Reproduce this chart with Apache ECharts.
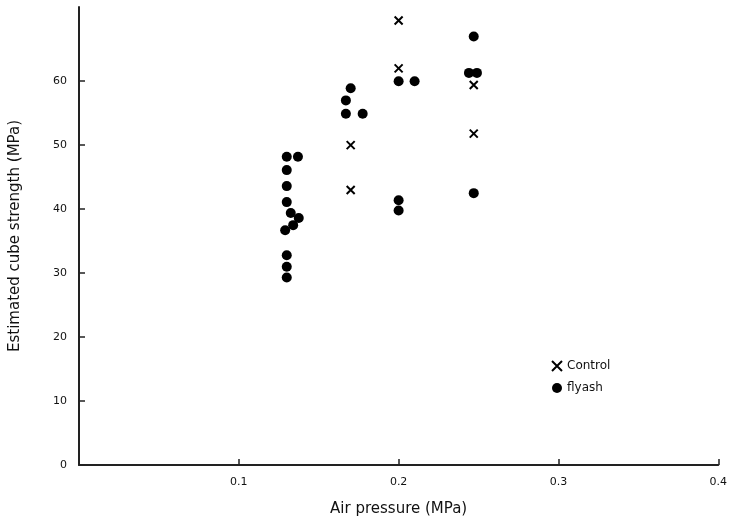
<!DOCTYPE html>
<html><head><meta charset="utf-8">
<script src="https://cdn.jsdelivr.net/npm/echarts@6/dist/echarts.min.js"></script>
<style>html,body{margin:0;padding:0;background:#fff}#c{width:730px;height:526px}</style>
</head><body><div id="c"></div>
<script>
var xTicks = [0.1, 0.2, 0.3, 0.4];
var yTicks = [0, 10, 20, 30, 40, 50, 60];
var controlX = [0.17, 0.17, 0.2, 0.2, 0.247, 0.247];
var controlY = [50, 43, 69.5, 62, 59.4, 51.8];
var flyashX = [0.13, 0.137, 0.13, 0.13, 0.13, 0.1325, 0.1375, 0.134, 0.129, 0.13, 0.13, 0.13,
               0.17, 0.167, 0.167, 0.1775,
               0.2, 0.21, 0.2, 0.2,
               0.247, 0.244, 0.249, 0.247];
var flyashY = [48.2, 48.2, 46.1, 43.6, 41.1, 39.4, 38.6, 37.5, 36.7, 32.8, 31.0, 29.3,
               58.9, 57.0, 54.9, 54.9,
               60, 60, 41.4, 39.8,
               67, 61.3, 61.3, 42.5];
function pairs(xs, ys){ return xs.map(function(x,i){return [x, ys[i]];}); }
var font = 'DejaVu Sans';
var chart = echarts.init(document.getElementById('c'));
chart.setOption({
  animation: false,
  backgroundColor: '#fff',
  textStyle: {fontFamily: font},
  grid: {left: 78, right: 10, top: 7, bottom: 61, containLabel: false},
  xAxis: {
    type: 'value', min: 0, max: 0.4, interval: 0.1,
    name: 'Air pressure (MPa)', nameLocation: 'middle', nameGap: 37,
    nameTextStyle: {fontSize: 15, color: '#111', fontFamily: font},
    axisLine: {show: true, lineStyle: {color: '#222', width: 2}},
    axisTick: {show: true, inside: true, length: 6, lineStyle: {color: '#222', width: 1.5}, customValues: xTicks},
    axisLabel: {color: '#111', fontSize: 11, margin: 12, customValues: xTicks},
    splitLine: {show: false}
  },
  yAxis: {
    type: 'value', min: 0, max: 71.6, interval: 10,
    name: 'Estimated cube strength (MPa)', nameLocation: 'middle', nameGap: 56, nameRotate: 90,
    nameTextStyle: {fontSize: 15, color: '#111', fontFamily: font},
    axisLine: {show: true, lineStyle: {color: '#222', width: 2}},
    axisTick: {show: true, inside: true, length: 6, lineStyle: {color: '#222', width: 1.5}, customValues: yTicks},
    axisLabel: {color: '#111', fontSize: 11, margin: 12, customValues: yTicks},
    splitLine: {show: false}
  },
  legend: {
    orient: 'vertical', left: 546, top: 355, itemGap: 10, itemWidth: 10, itemHeight: 10,
    textStyle: {fontSize: 12, color: '#111', fontFamily: font},
    data: ['Control', 'flyash']
  },
  series: [
    {
      name: 'Control', type: 'scatter', data: pairs(controlX, controlY),
      symbol: 'path://M0,0L10,10M10,0L0,10', symbolSize: 8,
      itemStyle: {color: 'transparent', borderColor: '#000', borderWidth: 2, opacity: 1}
    },
    {
      name: 'flyash', type: 'scatter', data: pairs(flyashX, flyashY),
      symbol: 'circle', symbolSize: 10,
      itemStyle: {color: '#000', opacity: 1}
    }
  ]
});
</script></body></html>
